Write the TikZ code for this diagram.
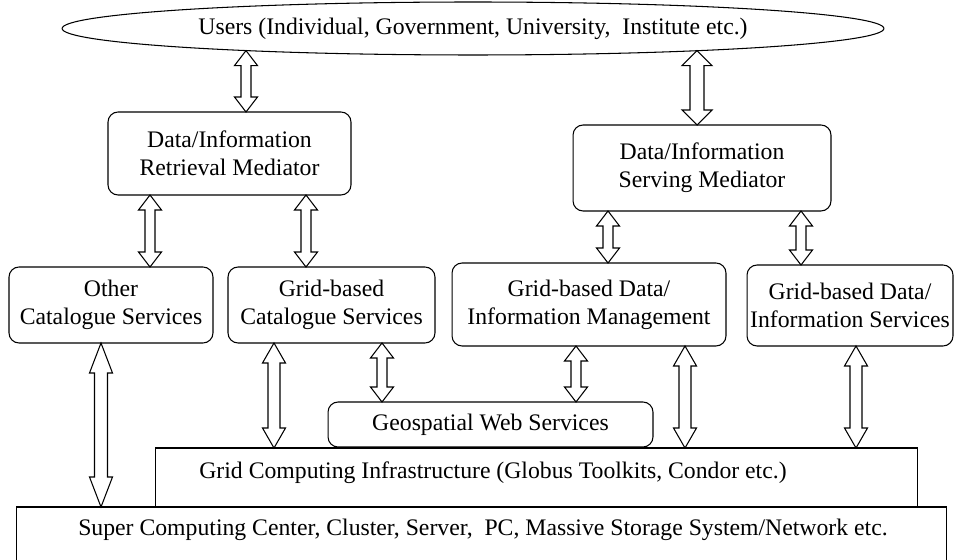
\documentclass[tikz,border=0pt]{standalone}
\usepackage{fontspec}
\setmainfont{Liberation Serif}
\usetikzlibrary{shapes.geometric}
\usetikzlibrary{calc}

% hollow double-headed block arrow, always vertical, x taken from the start point
\tikzset{
  head len/.store in=\headlen, head wd/.store in=\headwd, shaft wd/.store in=\shaftwd,
  head len=15, head wd=11.5, shaft wd=5,
  biarrow/.style={draw=black, line width=0.6pt,
    to path={let \p1=(\tikztostart), \p2=(\tikztotarget) in
      (\x1,\y1) -- ++(\headwd,\headlen) -- ++({\shaftwd-\headwd},0)
      -- ($(\x1,\y2)+(\shaftwd,-\headlen)$) -- ++({\headwd-\shaftwd},0)
      -- (\x1,\y2) -- ++(-\headwd,-\headlen) -- ++({\headwd-\shaftwd},0)
      -- ($(\x1,\y1)+(-\shaftwd,\headlen)$) -- ++({\shaftwd-\headwd},0) -- cycle}}
}

\begin{document}
\begin{tikzpicture}[x=0.02cm, y=-0.02cm,
    every node/.style={font=\fontsize{13.5}{16}\selectfont, align=center, inner sep=0pt, outer sep=0pt},
    rbox/.style={draw, line width=0.6pt, rounded corners=0.2cm},
    sbox/.style={draw, line width=0.6pt}]

        \useasboundingbox (0,0) rectangle (956,560);
        \clip (0,0) rectangle (956,560);

        % Users on top
        \node[ellipse, draw, line width=0.6pt, minimum width=16.44cm, minimum height=1.06cm] (users) at (473,28.5)
          {Users (Individual, Government, University,~ Institute etc.)};

        % Mediators
        \node[rbox, minimum width=4.86cm, minimum height=1.66cm] (retr) at (229.5,153.5) {Data/Information\\Retrieval Mediator};
        \node[rbox, minimum width=5.16cm, minimum height=1.72cm] (serv) at (702,168) {Data/Information\\Serving Mediator};

        % Service row
        \node[rbox, minimum width=4.08cm, minimum height=1.52cm] (other) at (111,305) {Other\\Catalogue Services};
        \node[rbox, minimum width=4.14cm, minimum height=1.52cm] (gcat) at (331.5,305) {Grid-based\\Catalogue Services};
        \node[rbox, minimum width=5.48cm, minimum height=1.66cm] (gmgmt) at (589,304.5) {Grid-based Data/\\Information Management};
        \node[rbox, minimum width=4.12cm, minimum height=1.62cm] (gsvc) at (850,305.5) {Grid-based Data/\\Information Services};

        % Geospatial web services
        \node[rbox, minimum width=6.5cm, minimum height=0.9cm] (geo) at (490.5,424.5) {Geospatial Web Services};

        % Infrastructure layers
        \node[sbox, minimum width=15.26cm, minimum height=1.18cm] (grid) at (536.5,477.5) {};
        \node (gridlbl) at (493,473) {Grid Computing Infrastructure (Globus Toolkits, Condor etc.)};
        \node[sbox, minimum width=18.62cm, minimum height=1.46cm] (super) at (481.5,543.5) {};
        \node (superlbl) at (483,530) {Super Computing Center, Cluster, Server,~ PC, Massive Storage System/Network etc.};

        % Arrows from the users (start lifted onto the ellipse rim)
        \draw[biarrow] ($(users.south -| 246,0)+(0,-4.4)$) to (retr.north);
        \draw[biarrow, head wd=15, shaft wd=7] ($(users.south -| 697,0)+(0,-4.3)$) to (serv.north);

        % Short arrows
        \foreach \a/\b/\x in {retr/other/150, retr/gcat/306, serv/gmgmt/608, serv/gsvc/801, gcat/geo/382, gmgmt/geo/576}
          \draw[biarrow] (\a.south -| \x,0) to (\b.north);

        % Long arrows down to the infrastructure
        \foreach \a/\x in {gcat/274, gmgmt/685, gsvc/856}
          \draw[biarrow, head len=20, shaft wd=6] (\a.south -| \x,0) to (grid.north);
        \draw[biarrow, head len=30, shaft wd=6.5] (other.south -| 101,0) to (super.north);

      \end{tikzpicture}
\end{document}
